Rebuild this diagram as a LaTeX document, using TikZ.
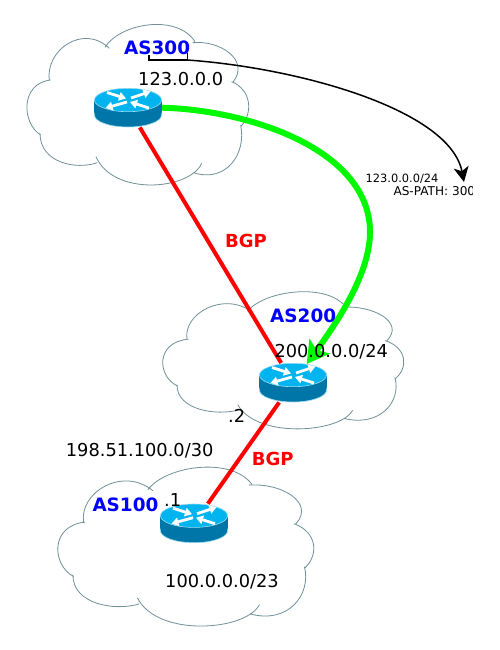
\documentclass[tikz,border=0pt]{standalone}
\usepackage{fontspec}
\setmainfont{DejaVu Sans}
\usetikzlibrary{arrows.meta}
\definecolor{cloudline}{HTML}{6F9098}
\definecolor{routertop}{HTML}{00B4F0}
\definecolor{routerside}{HTML}{0076A8}
\definecolor{routerrim}{HTML}{9ADCF2}
\definecolor{linkgreen}{HTML}{00F800}
\newcommand{\cloudshape}[4]{%
  \draw[cloudpen,shift={(#1,#2)},xscale=#3,yscale=#4]
    (255,82) .. controls (300,10) and (470,-20) .. (525,65)
    (518,68) .. controls (600,60) and (690,120) .. (640,185)
    (635,185) .. controls (695,210) and (700,280) .. (662,320)
    (662,315) .. controls (680,400) and (620,490) .. (520,458)
    (545,430) .. controls (510,510) and (280,530) .. (228,410)
    (232,428) .. controls (170,450) and (60,430) .. (60,340)
    (62,345) .. controls (5,310) and (0,190) .. (92,180)
    (88,182) .. controls (75,90) and (190,10) .. (268,85);}
\tikzset{
  cloudpen/.style={draw=cloudline,line width=0.8pt},
  routerbox/.style={rectangle,inner sep=0pt,minimum width=67.6pt,minimum height=39pt},
  redlink/.style={draw=red,line width=4pt},
  greenlink/.style={draw=linkgreen,line width=6pt,-{Stealth[length=22pt,width=25pt,inset=5pt]}},
  blacklink/.style={draw=black,line width=1.5pt},
  biglabel/.style={anchor=base west,inner sep=0pt,font=\fontsize{17.8}{20}\selectfont},
  smalllabel/.style={anchor=base west,inner sep=0pt,font=\fontsize{11.4}{13}\selectfont},
  pathlabel/.style={anchor=base west,inner sep=0pt,font=\fontsize{12.1}{14}\selectfont},
  aslabel/.style={anchor=base west,inner sep=0pt,text=blue,font=\bfseries\fontsize{18.4}{20}\selectfont},
  bgplabel/.style={anchor=base west,inner sep=0pt,text=red,font=\bfseries\fontsize{18}{20}\selectfont},
  routerarrow/.style={draw=white,line width=2.8pt,-{Triangle[length=7pt,width=8.5pt]}},
  router/.pic={
    \fill[routerside] (-33.6,0) rectangle (33.6,15);
    \fill[routerside,draw=routerrim,line width=0.6pt] (0,15) ellipse [x radius=33.6,y radius=12];
    \fill[routerside] (-33.3,0) rectangle (33.3,15);
    \fill[routertop,draw=routerrim,line width=0.6pt] (0,0) ellipse [x radius=33.6,y radius=11.7];
    \draw[routerarrow] (3,-2) -- (22.5,-8.5);
    \draw[routerarrow] (-21,-7.5) -- (-2,-1.5);
    \draw[routerarrow] (-1,2) -- (-22.5,8);
    \draw[routerarrow] (21,8) -- (2,2);
  }
}
\begin{document}
\begin{tikzpicture}[x=1pt,y=-1pt]
\useasboundingbox (0,0) rectangle (499,650);
\fill[white] (0,0) rectangle (499,650);
% clouds
\cloudshape{20}{20}{0.3333}{0.3333}
\cloudshape{155.2}{287.9}{0.3622}{0.2848}
\cloudshape{49.8}{462.7}{0.3847}{0.33}
% router anchors
\node[routerbox] (r1) at (128,107.7) {};
\node[routerbox] (r2) at (293,382.7) {};
\node[routerbox] (r3) at (194,523.4) {};
\coordinate (r2tip) at (306.7,364);
% red links
\draw[redlink] (r1) -- (r2);
\draw[redlink] (r2) -- (r3);
% routers
\pic at (128,100) {router};
\pic at (293,375) {router};
\pic at (194,515.7) {router};
% green path
\draw[greenlink] (r1.east) .. controls (250,110) and (370,150) .. (370,232)
  .. controls (370,275) and (335,325) .. (r2tip);
% AS300 bracket and advertised route
\node[aslabel] (as300) at (124,55) {AS300};
\coordinate (brl) at (149,55);
\coordinate (brr) at (187.3,53);
\coordinate (advert) at (464,182);
\draw[blacklink] (brl) |- (brr |- 0,60) -- (brr);
\draw[blacklink,-{Stealth[length=15pt,width=15pt,inset=4pt]}] (brr |- 0,60) .. controls (300,68) and (450,110) .. (advert);
% labels
\node[biglabel] (n123) at (138,86) {123.0.0.0};
\node[bgplabel] (bgp1) at (225,247.5) {BGP};
\node[aslabel] (as200) at (270,322.3) {AS200};
\node[biglabel] (n200) at (274.3,357.7) {200.0.0.0/24};
\node[biglabel] (dot2) at (228,422) {.2};
\node[biglabel] (n198) at (65.7,456) {198.51.100.0/30};
\node[bgplabel] (bgp2) at (251.7,465) {BGP};
\node[aslabel] (as100) at (92.3,511) {AS100};
\node[biglabel] (dot1) at (164,506) {.1};
\node[biglabel] (n100) at (165,587) {100.0.0.0/23};
\node[smalllabel] (n123b) at (365.5,182.7) {123.0.0.0/24};
\begin{scope}
\clip (380,184) rectangle (472.7,200);
\node[pathlabel] (aspath) at (393.3,195.7) {AS-PATH: 300};
\end{scope}
\end{tikzpicture}
\end{document}
